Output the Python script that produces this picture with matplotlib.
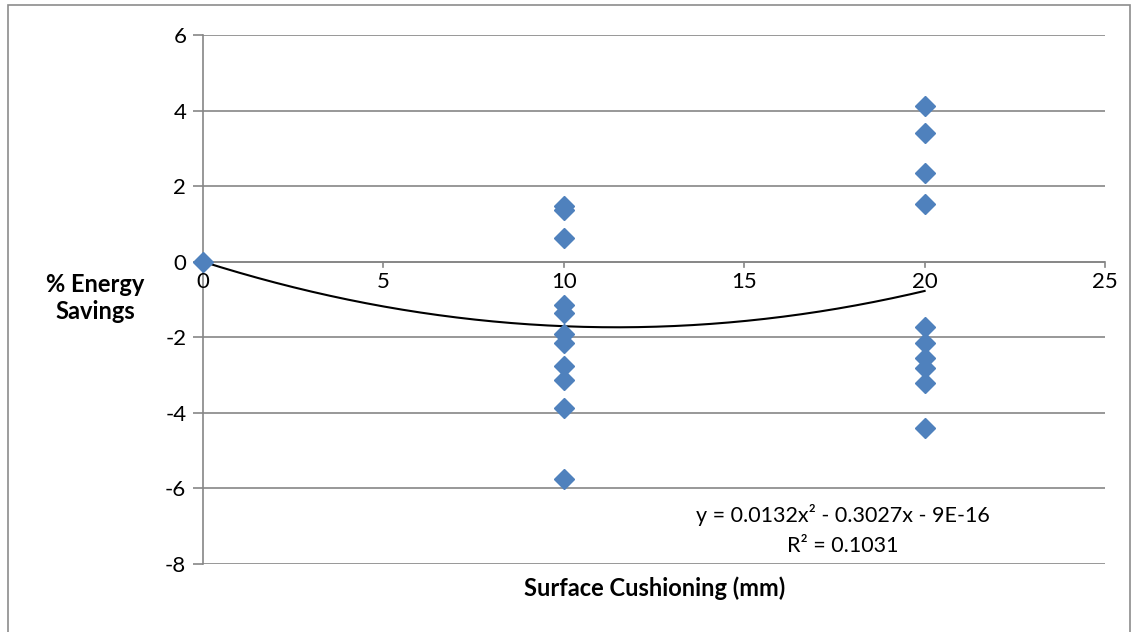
import numpy as np
import matplotlib
matplotlib.use("Agg")
import matplotlib.pyplot as plt
from matplotlib.patches import Rectangle

plt.rcParams['font.family'] = ['Lato', 'DejaVu Sans']
plt.rcParams['axes.unicode_minus'] = False

# data
cushion = [0] + [10] * 11 + [20] * 10
savings = [0.0,
           1.48, 1.37, 0.63, -1.15, -1.37, -1.9, -2.16, -2.75, -3.13, -3.86, -5.76,
           4.12, 3.41, 2.35, 1.52, -1.72, -2.14, -2.55, -2.82, -3.2, -4.41]
coef = [0.0132, -0.3027, -9e-16]   # trend line from the chart label
yticks = [6, 4, 2, 0, -2, -4, -6, -8]
xticks = [0, 5, 10, 15, 20, 25]

grid_col = '#868686'
fig = plt.figure(figsize=(11.39, 6.32), dpi=100)
ax = fig.add_axes([203 / 1139, 1 - 564 / 632, (1105 - 203) / 1139, (564 - 35) / 632])

# chart border
fig.patches.append(Rectangle((8 / 1139, -0.01), 1122 / 1139, 1 - 5 / 632 + 0.01,
                             transform=fig.transFigure, fill=False,
                             edgecolor='#8c8c8c', linewidth=1.2))

ax.set_xlim(0, 25)
ax.set_ylim(-8, 6)
ax.set_yticks(yticks)
ax.set_xticks(xticks)
ax.grid(axis='y', color=grid_col, linewidth=1.2)
ax.set_axisbelow(True)

for s in ['top', 'right', 'bottom']:
    ax.spines[s].set_visible(False)
ax.spines['left'].set_color(grid_col)
ax.spines['left'].set_linewidth(1.2)
ax.axhline(0, color=grid_col, linewidth=1.2, zorder=1)

ax.tick_params(axis='y', direction='out', length=7, width=1.2, color=grid_col,
               labelsize=16, pad=5)
ax.tick_params(axis='x', length=0, labelbottom=False)
# x tick marks and labels sit on the y=0 axis line
for xv in xticks:
    ax.plot([xv, xv], [0, -0.13], color=grid_col, linewidth=1.2, zorder=1, clip_on=False)
    ax.text(xv, -0.27, str(xv), ha='center', va='top', fontsize=16)

xs = np.linspace(0, 20, 200)
ax.plot(xs, np.polyval(coef, xs), color='black', linewidth=1.5, zorder=2)
ax.plot(cushion, savings, linestyle='none', marker='D', markersize=10,
        color='#4F81BD', markeredgecolor='#4F81BD', zorder=3, clip_on=False)

ax.text(843 / 1139, 1 - 530 / 632, 'y = 0.0132x² - 0.3027x - 9E-16\nR² = 0.1031',
        transform=fig.transFigure, ha='center', va='center', fontsize=15.5,
        linespacing=1.6)

fig.text(95 / 1139, 1 - 298 / 632, '% Energy\nSavings', ha='center', va='center',
         fontsize=17, fontweight='bold', linespacing=1.25)
fig.text(655 / 1139, 1 - 588 / 632, 'Surface Cushioning (mm)', ha='center', va='center',
         fontsize=17, fontweight='bold')

fig.savefig('out.png', dpi=100)
